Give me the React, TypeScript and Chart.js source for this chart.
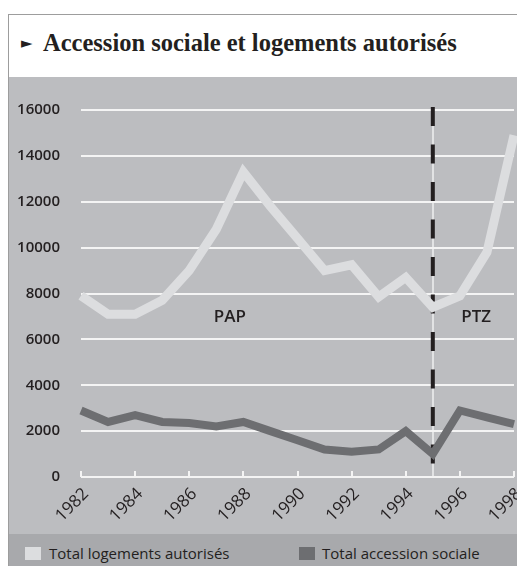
import React, { useEffect, useRef } from 'react';
import { Chart, registerables } from 'chart.js';

Chart.register(...registerables);

const years = ['1982', '1983', '1984', '1985', '1986', '1987', '1988', '1989', '1990', '1991', '1992', '1993', '1994', '1995', '1996', '1997', '1998'];
const totalLogements = [7900, 7100, 7100, 7700, 9000, 10800, 13300, 11800, 10400, 9000, 9250, 7850, 8700, 7400, 7900, 9800, 14900];
const accessionSociale = [2900, 2400, 2700, 2400, 2350, 2200, 2400, 2000, 1600, 1200, 1100, 1200, 2000, 1000, 2900, 2600, 2300];
const yTickValues = [0, 2000, 4000, 6000, 8000, 10000, 12000, 14000, 16000];
const seriesNames = ['Total logements autorisés', 'Total accession sociale'];
const periodLabels = ['PAP', 'PTZ'];
const periodLabelX = [5.5, 14.6];
const periodLabelY = [6950, 6950];
const markerYear = '1995';
const titleText = 'Accession sociale et logements autorisés';

const PANEL = '#bcbdc0';
const LEGEND_BG = '#a8a9ac';
const LIGHT = '#dcdddf';
const DARK = '#6d6e71';
const INK = '#231f20';

export default function App() {
  const canvasRef = useRef<HTMLCanvasElement | null>(null);

  useEffect(() => {
    const canvas = canvasRef.current;
    if (!canvas) return;
    const markerIndex = years.indexOf(markerYear);

    const decor = {
      id: 'decor',
      beforeDatasetsDraw(chart: any) {
        const { ctx, chartArea, scales } = chart;
        const x = scales.x;
        ctx.save();
        ctx.strokeStyle = '#f4f4f4';
        ctx.lineWidth = 2;
        years.forEach((_, i) => {
          if (i % 2 !== 0) return;
          const px = Math.round(x.getPixelForValue(i));
          ctx.beginPath();
          ctx.moveTo(px, chartArea.bottom);
          ctx.lineTo(px, chartArea.bottom - 6);
          ctx.stroke();
        });
        const mx = x.getPixelForValue(markerIndex);
        ctx.strokeStyle = INK;
        ctx.lineWidth = 4;
        ctx.setLineDash([19, 18.5]);
        ctx.beginPath();
        ctx.moveTo(mx, chartArea.top - 3);
        ctx.lineTo(mx, chartArea.bottom);
        ctx.stroke();
        ctx.restore();
      },
      afterDatasetsDraw(chart: any) {
        const { ctx, scales } = chart;
        ctx.save();
        ctx.fillStyle = INK;
        ctx.font = '600 17px "Open Sans"';
        ctx.textAlign = 'center';
        ctx.textBaseline = 'middle';
        periodLabels.forEach((lab, i) => {
          ctx.fillText(lab, scales.x.getPixelForValue(periodLabelX[i]), scales.y.getPixelForValue(periodLabelY[i]));
        });
        ctx.restore();
      },
    };

    const chart = new Chart(canvas, {
      type: 'line',
      data: {
        labels: years,
        datasets: [
          {
            label: seriesNames[0],
            data: totalLogements,
            borderColor: LIGHT,
            backgroundColor: LIGHT,
            borderWidth: 9,
            pointRadius: 0,
            tension: 0,
            borderJoinStyle: 'miter',
            clip: false,
          },
          {
            label: seriesNames[1],
            data: accessionSociale,
            borderColor: DARK,
            backgroundColor: DARK,
            borderWidth: 8,
            pointRadius: 0,
            tension: 0,
            borderJoinStyle: 'miter',
            clip: false,
          },
        ],
      },
      options: {
        animation: false,
        responsive: false,
        maintainAspectRatio: false,
        layout: { padding: { top: 33, right: 3, left: 0, bottom: 0 } },
        plugins: { legend: { display: false }, tooltip: { enabled: false }, title: { display: false } },
        scales: {
          x: {
            type: 'category',
            offset: false,
            border: { display: false },
            grid: {
              drawOnChartArea: true,
              drawTicks: false,
              lineWidth: 2,
              color: (c: any) => (c.index === markerIndex ? '#e2e3e4' : 'rgba(0,0,0,0)'),
            },
            ticks: {
              autoSkip: false,
              maxRotation: 45,
              minRotation: 45,
              padding: 7,
              labelOffset: 5,
              color: INK,
              font: { family: 'Open Sans', size: 17 },
              callback: (_v: any, i: number) => (i % 2 === 0 ? years[i] : ''),
            },
            afterFit: (s: any) => {
              s.height = 57;
              s.paddingLeft = 0;
              s.paddingRight = 0;
            },
          },
          y: {
            min: 0,
            max: 16000,
            border: { display: false },
            grid: { color: '#f4f4f4', lineWidth: 2, drawTicks: false },
            afterBuildTicks: (s: any) => {
              s.ticks = yTickValues.map((v) => ({ value: v }));
            },
            ticks: {
              padding: 21,
              color: INK,
              font: { family: 'Open Sans', size: 15, weight: '600' },
              callback: (v: any) => String(v),
            },
            afterFit: (s: any) => {
              s.width = 72;
              s.paddingTop = 0;
              s.paddingBottom = 0;
            },
          },
        },
      },
      plugins: [decor],
    } as any);

    return () => chart.destroy();
  }, []);

  return (
    <>
      <style>{'html,body{margin:0;overflow:hidden;background:#fff}'}</style>
      <div
        style={{
          position: 'absolute',
          left: 8,
          top: 14,
          width: 509,
          height: 552,
          boxSizing: 'border-box',
          borderLeft: '1px solid #9d9d9d',
          borderTop: '1px solid #9d9d9d',
          background: '#fff',
          overflow: 'hidden',
        }}
      >
        <div
          style={{
            position: 'absolute',
            left: 12,
            top: 21,
            fontFamily: '"DejaVu Sans", sans-serif',
            fontSize: 15,
            lineHeight: '15px',
            color: INK,
          }}
        >
          ►
        </div>
        <div
          style={{
            position: 'absolute',
            left: 34,
            top: 16,
            fontFamily: '"Liberation Serif", serif',
            fontWeight: 'bold',
            fontSize: 24.5,
            lineHeight: '24.5px',
            color: INK,
            whiteSpace: 'nowrap',
          }}
        >
          {titleText}
        </div>
        <div style={{ position: 'absolute', left: 0, top: 62, width: 508, height: 457, background: PANEL }}>
          <canvas ref={canvasRef} width={508} height={457} style={{ display: 'block', width: 508, height: 457 }} />
        </div>
        <div style={{ position: 'absolute', left: 0, top: 519, width: 508, height: 33, background: LEGEND_BG }}>
          {[0, 1].map((i) => (
            <React.Fragment key={i}>
              <div
                style={{
                  position: 'absolute',
                  left: i === 0 ? 16 : 290,
                  top: 13,
                  width: 16,
                  height: 13,
                  background: i === 0 ? LIGHT : DARK,
                }}
              />
              <div
                style={{
                  position: 'absolute',
                  left: i === 0 ? 40 : 313,
                  top: 11,
                  fontFamily: '"Open Sans", sans-serif',
                  fontSize: 15,
                  lineHeight: '16px',
                  color: INK,
                  whiteSpace: 'nowrap',
                }}
              >
                {seriesNames[i]}
              </div>
            </React.Fragment>
          ))}
        </div>
      </div>
    </>
  );
}
